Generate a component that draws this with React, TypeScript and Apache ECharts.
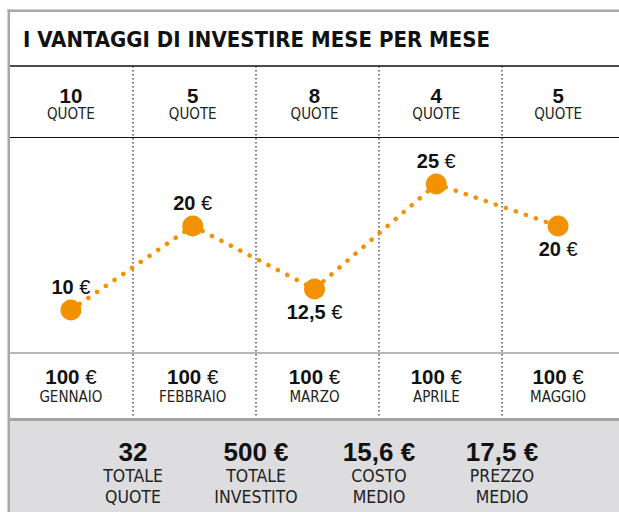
import React, { useEffect, useRef } from "react";
import * as echarts from "echarts";

// ---- data ----
const TITLE = "I VANTAGGI DI INVESTIRE MESE PER MESE";
const months = ["GENNAIO", "FEBBRAIO", "MARZO", "APRILE", "MAGGIO"];
const quoteCounts = [10, 5, 8, 4, 5];
const prices = [10, 20, 12.5, 25, 20];
const invested = [100, 100, 100, 100, 100];
const totalValues = ["32", "500 €", "15,6 €", "17,5 €"];
const totalLabels = [
  ["TOTALE", "QUOTE"],
  ["TOTALE", "INVESTITO"],
  ["COSTO", "MEDIO"],
  ["PREZZO", "MEDIO"],
];
const priceLabelSide = ["top", "top", "bottom", "top", "bottom"];

// ---- layout / style ----
const W = 619;
const H = 512;
const GRID_LEFT = 10;
const COL_W = 123;
const GRID_W = COL_W * 5;
const TITLE_LINE_Y = 66;
const TOP_ROW_LINE_Y = 137;
const BOTTOM_ROW_LINE_Y = 353;
const FOOTER_Y = 420;
const ORANGE = "#F39200";
const SANS = "'Liberation Sans', Arial, sans-serif";
const NARROW = "'Liberation Sans Narrow', 'DejaVu Sans Condensed', 'Liberation Sans', sans-serif";
const INK = "#111111";

const fmt = (v: number) => String(v).replace(".", ",");

export default function App() {
  const ref = useRef<HTMLDivElement>(null);
  useEffect(() => {
    if (!ref.current) return;
    const chart = echarts.init(ref.current, null, { renderer: "svg", width: W, height: H });

    const dividers = [1, 2, 3, 4].map((i) => ({
      type: "line",
      z: 5,
      shape: {
        x1: GRID_LEFT + i * COL_W,
        y1: TITLE_LINE_Y,
        x2: GRID_LEFT + i * COL_W,
        y2: FOOTER_Y - 1,
      },
      style: { stroke: "#222", lineWidth: 1.2, lineDash: [1.4, 2.6] },
    }));

    const footerTexts = totalValues.map((v, i) => ({
      type: "text",
      z: 20,
      x: GRID_LEFT + (i + 1) * COL_W,
      y: 438,
      style: {
        text: `{v|${v}}\n{l|${totalLabels[i][0]}}\n{l|${totalLabels[i][1]}}`,
        align: "center",
        verticalAlign: "top",
        rich: {
          v: { fontFamily: SANS, fontWeight: "bold", fontSize: 26, lineHeight: 27, fill: INK, align: "center" },
          l: { fontFamily: NARROW, fontSize: 17.5, lineHeight: 21, fill: "#222", align: "center" },
        },
      },
    }));

    chart.setOption({
      animation: false,
      backgroundColor: "#ffffff",
      grid: [
        { left: GRID_LEFT, width: GRID_W, top: 142, height: 252 },
        { left: GRID_LEFT, width: GRID_W, top: TOP_ROW_LINE_Y, height: 100 },
        { left: GRID_LEFT, width: GRID_W, top: 100, height: BOTTOM_ROW_LINE_Y - 100 },
      ],
      xAxis: [
        { gridIndex: 0, type: "category", data: months, show: false },
        {
          gridIndex: 1,
          type: "category",
          data: months,
          position: "top",
          axisLine: { show: true, onZero: false, lineStyle: { color: INK, width: 1.2 } },
          axisTick: { show: false },
          splitLine: { show: false },
          axisLabel: {
            interval: 0,
            margin: 15,
            formatter: (_v: string, i: number) => `{n|${quoteCounts[i]}}\n{q|QUOTE}`,
            rich: {
              n: { fontFamily: SANS, fontWeight: "bold", fontSize: 20.5, lineHeight: 20, color: INK, align: "center" },
              q: { fontFamily: NARROW, fontSize: 15, lineHeight: 17, color: "#222", align: "center" },
            },
          },
        },
        {
          gridIndex: 2,
          type: "category",
          data: months,
          position: "bottom",
          axisLine: { show: true, onZero: false, lineStyle: { color: "#a0a0a0", width: 1.5 } },
          axisTick: { show: false },
          splitLine: { show: false },
          axisLabel: {
            interval: 0,
            margin: 13,
            formatter: (v: string, i: number) => `{n|${invested[i]}}{e| €}\n{m|${v}}`,
            rich: {
              n: { fontFamily: SANS, fontWeight: "bold", fontSize: 20.5, lineHeight: 21, color: INK },
              e: { fontFamily: SANS, fontSize: 20.5, lineHeight: 21, color: INK },
              m: { fontFamily: NARROW, fontSize: 15, lineHeight: 19, color: "#222", align: "center" },
            },
          },
        },
      ],
      yAxis: [
        { gridIndex: 0, type: "value", min: 0, max: 30, show: false },
        { gridIndex: 1, type: "value", show: false },
        { gridIndex: 2, type: "value", show: false },
      ],
      series: [
        {
          type: "line",
          xAxisIndex: 0,
          yAxisIndex: 0,
          z: 10,
          data: prices.map((v, i) => ({ value: v, label: { position: priceLabelSide[i] } })),
          symbol: "circle",
          symbolSize: 21,
          itemStyle: { color: ORANGE },
          lineStyle: { color: ORANGE, width: 4.5, type: [0.1, 10.5], cap: "round" },
          label: {
            show: true,
            distance: 3,
            formatter: (p: any) => `{n|${fmt(p.value)}}{e| €}`,
            rich: {
              n: { fontFamily: SANS, fontWeight: "bold", fontSize: 20, lineHeight: 19, color: INK },
              e: { fontFamily: SANS, fontSize: 20, lineHeight: 19, color: INK },
            },
          },
        },
      ],
      graphic: [
        // footer background
        { type: "rect", z: 1, shape: { x: GRID_LEFT, y: FOOTER_Y, width: W - GRID_LEFT, height: H - FOOTER_Y }, style: { fill: "#dddddf" } },
        { type: "rect", z: 6, shape: { x: GRID_LEFT, y: FOOTER_Y - 2, width: W - GRID_LEFT, height: 3 }, style: { fill: "#a3a3a3" } },
        // borders
        { type: "rect", z: 30, shape: { x: 7.5, y: 9.5, width: 2.5, height: H - 9.5 }, style: { fill: "#a8a8a8" } },
        { type: "rect", z: 30, shape: { x: 7.5, y: 9.5, width: W - 7.5, height: 2.5 }, style: { fill: "#a8a8a8" } },
        // title line
        { type: "line", z: 6, shape: { x1: GRID_LEFT, y1: TITLE_LINE_Y, x2: W, y2: TITLE_LINE_Y }, style: { stroke: INK, lineWidth: 1.5 } },
        // title
        {
          type: "text",
          z: 20,
          x: 23,
          y: 39,
          style: {
            text: TITLE,
            fontFamily: NARROW,
            fontWeight: "bold",
            fontSize: 22,
            fill: INK,
            verticalAlign: "middle",
            align: "left",
          },
        },
        ...dividers,
        ...footerTexts,
      ],
    });
    return () => chart.dispose();
  }, []);

  return (
    <div
      ref={ref}
      style={{ position: "absolute", left: 0, top: 0, width: W, height: H, background: "#fff" }}
    />
  );
}
